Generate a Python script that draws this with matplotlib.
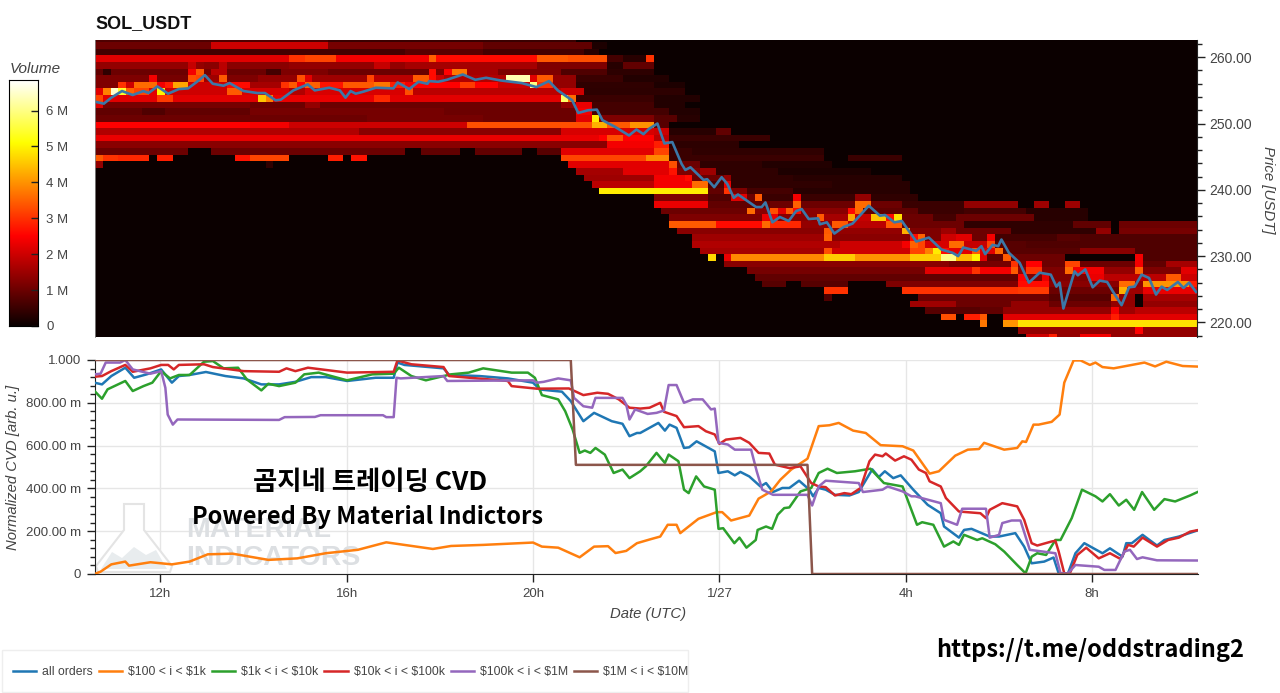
import matplotlib
matplotlib.use('Agg')
import matplotlib.pyplot as plt
import numpy as np
from matplotlib.lines import Line2D
from matplotlib.patches import Polygon, Rectangle

plt.rcParams['font.family'] = ['Liberation Sans', 'DejaVu Sans']

# volume per 10 min column and $1 price row, in millions: price -> (first col, last col, vol)
# later runs overwrite earlier ones
heat_runs = {
    263: [(0, 30, 0.7), (30, 62, 0.5)],
    262: [(0, 15, 1.0), (15, 30, 2.0), (30, 50, 1.1), (50, 64, 0.9), (64, 66, 0.2)],
    261: [(0, 63, 0.6), (40, 50, 0.8), (63, 65, 0.3)],
    260: [(0, 25, 2.2), (25, 27, 3.0), (27, 31, 3.2), (31, 43, 2.4), (43, 44, 3.5), (44, 57, 2.6), (57, 61, 3.4), (61, 66, 3.3), (66, 68, 0.6), (68, 71, 0.3), (71, 72, 3.0)],
    259: [(0, 14, 1.4), (14, 25, 1.3), (25, 40, 1.4), (40, 57, 1.6), (57, 66, 1.2), (66, 68, 0.3), (68, 72, 0.9), (12, 13, 1.9), (36, 38, 1.9), (16, 17, 1.8)],
    258: [(0, 1, 0.9), (1, 2, 0.4), (2, 12, 1.0), (12, 13, 2.4), (13, 14, 3.4), (14, 15, 1.1), (15, 17, 1.8), (17, 22, 1.0), (22, 24, 0.6), (24, 30, 1.2), (30, 43, 1.0), (43, 44, 2.6), (44, 45, 1.2), (45, 46, 2.5), (46, 48, 3.7), (48, 52, 1.6), (52, 60, 1.2), (60, 66, 0.7), (66, 72, 0.35)],
    257: [(0, 7, 1.2), (7, 8, 2.4), (8, 12, 1.1), (12, 13, 3.3), (13, 14, 3.2), (14, 16, 1.5), (16, 17, 3.4), (17, 21, 1.2), (21, 26, 1.4), (26, 27, 3.3), (27, 28, 2.2), (28, 35, 1.5), (35, 36, 3.2), (36, 41, 1.8), (41, 43, 3.4), (43, 44, 2.6), (44, 45, 2.0), (45, 53, 1.7), (53, 56, 6.3), (56, 57, 2.2), (57, 59, 3.4), (59, 62, 1.4), (62, 68, 0.5), (68, 74, 0.25)],
    256: [(0, 3, 1.2), (3, 4, 3.0), (4, 5, 2.0), (5, 8, 3.6), (8, 9, 2.4), (9, 10, 2.8), (10, 12, 4.2), (12, 17, 2.0), (17, 20, 2.6), (20, 24, 1.6), (24, 25, 3.0), (25, 26, 3.4), (26, 27, 2.5), (27, 29, 3.5), (29, 32, 2.7), (32, 36, 3.4), (36, 38, 3.7), (38, 40, 2.8), (40, 41, 2.4), (41, 52, 2.5), (47, 49, 3.1), (52, 56, 2.0), (56, 57, 6.0), (57, 59, 3.0), (59, 62, 1.4), (62, 72, 0.4), (72, 76, 0.2)],
    255: [(0, 1, 2.2), (1, 2, 3.8), (2, 3, 6.5), (3, 4, 5.4), (4, 5, 3.5), (5, 7, 3.2), (7, 8, 2.2), (8, 9, 5.0), (9, 17, 2.0), (17, 19, 3.4), (19, 40, 2.1), (25, 27, 1.7), (40, 41, 3.3), (41, 60, 1.8), (60, 63, 2.0), (63, 76, 0.35)],
    254: [(0, 1, 3.2), (1, 8, 2.2), (8, 10, 3.1), (10, 21, 2.2), (21, 22, 4.5), (22, 23, 3.8), (23, 36, 2.3), (36, 38, 2.9), (38, 60, 2.2), (60, 61, 5.8), (61, 62, 3.6), (62, 72, 0.5), (72, 78, 0.25)],
    253: [(0, 1, 2.2), (1, 20, 1.1), (20, 27, 1.0), (27, 29, 1.4), (29, 60, 1.0), (60, 62, 1.4), (62, 64, 2.3), (64, 72, 0.6), (72, 76, 0.25)],
    252: [(0, 6, 0.9), (6, 9, 0.7), (9, 20, 0.9), (20, 45, 1.1), (45, 62, 1.0), (62, 64, 2.4), (64, 74, 0.6), (74, 78, 0.25)],
    251: [(0, 35, 1.0), (35, 50, 1.1), (50, 62, 1.0), (62, 64, 2.2), (64, 65, 4.9), (65, 72, 1.2), (72, 75, 0.8), (75, 78, 0.3)],
    250: [(0, 20, 2.5), (20, 25, 2.4), (25, 48, 2.0), (48, 64, 3.3), (64, 66, 4.3), (66, 69, 3.4), (69, 72, 4.0), (72, 74, 0.8)],
    249: [(0, 34, 1.7), (34, 60, 1.3), (60, 72, 2.1), (72, 74, 2.0), (74, 80, 0.3), (80, 82, 0.9)],
    248: [(0, 65, 2.3), (65, 72, 2.5), (66, 68, 3.3), (72, 74, 1.8), (74, 87, 0.5)],
    247: [(0, 66, 1.3), (66, 72, 2.4), (72, 74, 2.8), (74, 83, 0.35)],
    246: [(0, 12, 1.0), (15, 40, 1.0), (42, 47, 0.9), (49, 55, 0.9), (57, 60, 0.8), (60, 72, 2.2), (72, 74, 3.2), (74, 77, 0.5), (77, 94, 0.4)],
    245: [(0, 1, 3.4), (1, 3, 3.0), (3, 7, 2.9), (8, 10, 2.8), (18, 20, 2.7), (20, 25, 3.2), (30, 32, 2.8), (33, 35, 2.7), (60, 71, 3.2), (71, 74, 3.9), (74, 80, 0.5), (80, 94, 0.5), (97, 104, 0.5)],
    244: [(0, 1, 1.4), (22, 23, 0.4), (61, 74, 2.2), (74, 75, 3.3), (75, 78, 1.0), (78, 86, 0.4), (86, 95, 0.25)],
    243: [(62, 68, 1.6), (68, 74, 2.2), (74, 75, 2.7), (75, 78, 1.2), (78, 80, 1.5), (80, 88, 0.4), (88, 100, 0.2)],
    242: [(63, 72, 1.5), (72, 76, 2.4), (76, 77, 2.6), (77, 81, 1.0), (81, 82, 1.4), (82, 90, 0.4), (90, 104, 0.3)],
    241: [(64, 72, 1.8), (72, 77, 2.4), (77, 79, 3.6), (79, 81, 0.7), (81, 82, 2.3), (82, 95, 0.4), (95, 105, 0.3)],
    240: [(65, 79, 4.9), (79, 81, 0.9), (81, 82, 3.0), (82, 84, 1.2), (84, 90, 0.6), (90, 105, 0.3)],
    239: [(72, 79, 1.2), (79, 82, 0.7), (82, 84, 2.2), (84, 85, 1.0), (85, 86, 3.4), (86, 90, 0.5), (90, 91, 2.4), (91, 98, 0.5), (98, 100, 1.4), (100, 106, 0.4)],
    238: [(72, 79, 2.3), (79, 87, 0.9), (87, 90, 1.0), (90, 91, 3.5), (91, 98, 1.0), (98, 100, 3.6), (100, 104, 1.0), (104, 112, 0.5), (112, 119, 1.4), (121, 123, 1.5), (125, 127, 1.5)],
    237: [(73, 84, 1.0), (84, 85, 3.6), (85, 87, 1.3), (87, 88, 3.3), (88, 89, 2.2), (89, 90, 3.4), (90, 91, 2.6), (91, 97, 1.3), (97, 98, 2.6), (98, 99, 3.6), (99, 106, 0.9), (106, 112, 0.5), (112, 120, 0.6), (120, 128, 0.3)],
    236: [(74, 86, 1.2), (86, 88, 2.3), (88, 93, 1.3), (93, 94, 3.4), (94, 97, 1.6), (97, 98, 4.2), (98, 100, 1.9), (100, 102, 4.5), (102, 103, 2.6), (103, 104, 4.8), (104, 108, 1.0), (108, 111, 0.6), (111, 121, 1.0), (121, 128, 0.3)],
    235: [(74, 80, 3.4), (80, 86, 2.6), (86, 87, 3.6), (87, 91, 2.9), (91, 95, 1.4), (95, 97, 3.4), (97, 102, 1.8), (102, 104, 3.4), (104, 112, 1.0), (112, 126, 0.4), (126, 131, 0.9), (132, 142, 1.0)],
    234: [(75, 94, 1.3), (94, 95, 3.4), (95, 104, 1.4), (104, 105, 4.3), (105, 109, 1.2), (109, 111, 1.5), (111, 118, 1.0), (118, 129, 0.4), (129, 131, 1.4), (132, 142, 1.1)],
    233: [(77, 94, 1.5), (94, 95, 3.5), (95, 105, 1.3), (105, 106, 2.6), (106, 107, 3.5), (107, 109, 1.2), (109, 111, 2.0), (111, 113, 2.2), (113, 115, 1.0), (115, 116, 2.4), (116, 124, 0.6), (124, 127, 0.8), (127, 142, 0.7)],
    232: [(77, 96, 1.7), (96, 104, 2.0), (104, 105, 2.4), (105, 106, 3.5), (106, 107, 3.2), (107, 110, 2.1), (110, 112, 3.6), (112, 115, 1.9), (115, 116, 3.2), (116, 120, 0.8), (120, 142, 0.7)],
    231: [(78, 94, 1.6), (94, 95, 3.3), (95, 105, 2.0), (105, 107, 3.2), (107, 108, 3.8), (108, 109, 4.9), (109, 110, 2.6), (110, 113, 2.2), (113, 114, 3.4), (114, 116, 2.2), (116, 117, 3.6), (117, 127, 0.8), (127, 134, 1.3), (134, 142, 0.7)],
    230: [(79, 80, 4.7), (81, 82, 2.3), (82, 94, 3.9), (94, 98, 4.6), (98, 105, 4.0), (105, 109, 4.6), (109, 111, 6.0), (111, 113, 4.4), (113, 114, 5.0), (114, 115, 2.2), (115, 117, 0.9), (117, 118, 3.4), (118, 125, 1.0), (134, 135, 2.4), (135, 142, 0.7)],
    229: [(81, 110, 1.3), (110, 118, 1.1), (118, 119, 3.0), (119, 120, 1.1), (120, 122, 2.5), (122, 125, 1.0), (125, 127, 3.2), (127, 134, 1.0), (134, 135, 2.4), (135, 138, 0.9), (138, 142, 1.6)],
    228: [(84, 107, 1.1), (107, 113, 2.2), (113, 114, 3.0), (114, 118, 2.4), (118, 119, 3.4), (119, 120, 1.4), (120, 122, 3.0), (122, 125, 1.2), (125, 126, 3.6), (126, 130, 2.4), (130, 134, 1.4), (134, 135, 3.5), (135, 140, 1.2), (140, 142, 2.2)],
    227: [(85, 105, 0.9), (105, 119, 0.9), (119, 120, 2.5), (120, 122, 1.2), (122, 123, 2.3), (123, 128, 1.2), (128, 130, 2.3), (130, 135, 1.8), (135, 138, 1.8), (138, 140, 3.4), (140, 142, 2.0)],
    226: [(86, 89, 0.8), (91, 97, 0.8), (102, 119, 1.2), (119, 123, 2.6), (123, 132, 1.3), (132, 134, 3.6), (134, 135, 1.4), (135, 141, 4.0), (141, 142, 2.8)],
    225: [(94, 97, 3.0), (104, 119, 3.0), (119, 123, 3.1), (123, 132, 1.0), (132, 133, 4.3), (133, 135, 1.5), (135, 142, 2.3)],
    224: [(94, 95, 0.7), (106, 123, 1.0), (123, 131, 0.8), (131, 132, 3.6), (132, 134, 1.4), (135, 142, 1.6)],
    223: [(105, 111, 1.5), (111, 118, 1.0), (118, 123, 1.4), (123, 131, 1.0), (131, 134, 1.4), (135, 142, 1.4)],
    222: [(107, 114, 0.8), (114, 117, 0.9), (117, 131, 1.4), (131, 132, 2.4), (132, 134, 1.5), (134, 142, 1.8)],
    221: [(109, 111, 3.3), (112, 114, 2.8), (114, 115, 3.4), (117, 142, 2.2), (131, 132, 2.8)],
    220: [(114, 115, 3.7), (117, 119, 4.0), (119, 142, 4.8)],
    219: [(119, 142, 1.4), (134, 135, 2.5)],
    218: [(120, 123, 2.0), (123, 124, 2.8), (124, 127, 1.4), (127, 131, 2.4), (131, 142, 1.4)],
}

price_t = [10.59, 10.79, 10.95, 11.18, 11.41, 11.64, 11.75, 11.94, 12.17, 12.40, 12.60, 12.79, 12.96, 13.13, 13.36, 13.49, 13.79, 14.09, 14.25, 14.48, 14.59, 14.86, 15.17, 15.32, 15.63, 15.86, 15.98, 16.09, 16.20, 16.36, 16.63, 17.01, 17.10, 17.35, 17.55, 17.74, 17.78, 17.97, 18.16, 18.50, 18.77, 19.00, 19.31, 19.77, 20.08, 20.35, 20.54, 20.85, 20.98, 21.19, 21.38, 21.50, 21.77, 22.07, 22.23, 22.38, 22.50, 22.68, 22.83, 23.00, 23.20, 23.28, 23.39, 23.67, 23.75, 23.90, 24.06, 24.18, 24.32, 24.41, 24.80, 24.92, 25.00, 25.15, 25.31, 25.50, 25.66, 25.78, 25.93, 26.13, 26.17, 26.32, 26.48, 26.68, 26.87, 27.22, 27.46, 27.57, 27.77, 27.93, 28.24, 28.51, 28.78, 29.02, 29.14, 29.25, 29.53, 29.64, 29.72, 29.88, 30.00, 30.07, 30.23, 30.46, 30.66, 30.89, 31.13, 31.25, 31.32, 31.40, 31.64, 31.71, 31.87, 32.03, 32.18, 32.34, 32.46, 32.65, 32.81, 32.93, 33.08, 33.24, 33.39, 33.51, 33.63, 33.86, 33.98, 34.10, 34.25]
price_v = [253.3, 253.0, 253.9, 254.9, 254.3, 254.9, 254.6, 255.6, 254.5, 255.2, 255.3, 256.3, 257.3, 256.0, 255.7, 256.1, 254.9, 254.6, 254.6, 253.5, 253.6, 255.0, 255.9, 255.0, 255.4, 255.0, 253.9, 254.9, 254.5, 254.8, 255.4, 255.3, 256.2, 255.2, 256.3, 256.0, 256.4, 256.3, 256.6, 257.4, 256.6, 256.9, 256.5, 256.1, 255.5, 256.4, 255.0, 253.5, 251.6, 252.0, 252.1, 250.5, 249.5, 248.2, 249.1, 248.4, 249.2, 250.0, 247.0, 247.2, 243.9, 243.0, 243.4, 241.5, 241.6, 240.4, 241.9, 240.9, 238.8, 239.3, 237.4, 237.4, 238.1, 235.1, 235.9, 235.3, 236.8, 237.1, 235.6, 235.7, 234.8, 235.1, 233.4, 234.4, 234.9, 237.6, 236.1, 236.2, 235.1, 235.3, 232.2, 232.8, 231.0, 230.5, 230.0, 231.3, 230.8, 231.5, 230.3, 231.7, 231.5, 232.5, 230.5, 229.0, 226.0, 227.5, 227.2, 225.4, 226.0, 222.1, 227.7, 227.1, 228.0, 225.3, 226.3, 226.1, 224.7, 222.6, 225.3, 225.4, 227.2, 226.7, 224.2, 225.4, 224.9, 226.1, 225.2, 226.0, 224.6]

all_t = [10.59, 10.75, 10.95, 11.25, 11.44, 11.71, 12.02, 12.25, 12.40, 12.63, 12.98, 13.40, 13.79, 14.17, 14.55, 14.90, 15.24, 15.55, 16.01, 16.62, 17.01, 17.09, 17.24, 18.08, 18.20, 18.85, 19.46, 20.00, 20.15, 20.62, 20.81, 21.08, 21.31, 21.69, 21.92, 22.07, 22.23, 22.30, 22.69, 22.83, 22.93, 23.08, 23.24, 23.35, 23.51, 23.90, 23.98, 24.18, 24.33, 24.45, 24.64, 24.88, 25.00, 25.15, 25.35, 25.50, 25.71, 25.93, 26.01, 26.13, 26.28, 26.48, 26.79, 26.99, 27.28, 27.42, 27.55, 27.73, 27.89, 28.16, 28.47, 28.75, 28.82, 29.14, 29.25, 29.41, 29.80, 30.00, 30.35, 30.54, 30.70, 30.97, 31.17, 31.28, 31.48, 31.64, 31.83, 32.22, 32.38, 32.65, 32.73, 32.85, 33.08, 33.39, 33.55, 33.86, 34.29]
all_v = [.894, .886, .925, .964, .917, .933, .956, .894, .925, .930, .944, .925, .914, .886, .886, .898, .920, .920, .902, .917, .917, .988, .977, .961, .930, .925, .914, .894, .862, .852, .808, .714, .753, .714, .702, .644, .659, .659, .706, .670, .698, .683, .589, .592, .620, .573, .472, .480, .461, .477, .456, .409, .425, .383, .402, .402, .436, .394, .363, .402, .394, .370, .367, .383, .489, .453, .480, .448, .461, .394, .323, .284, .222, .170, .206, .211, .175, .175, .191, .128, .050, .058, .077, .003, .003, .097, .144, .097, .120, .081, .144, .144, .183, .133, .159, .175, .206]

s100_t = [10.59, 10.72, 10.95, 11.25, 11.33, 11.79, 12.25, 12.63, 13.02, 13.55, 14.32, 14.94, 15.55, 16.24, 16.85, 17.85, 18.24, 18.93, 20.00, 20.19, 20.54, 21.00, 21.31, 21.61, 21.77, 22.00, 22.23, 22.53, 22.73, 22.89, 23.08, 23.16, 23.55, 23.94, 24.06, 24.25, 24.64, 24.84, 25.11, 25.31, 25.54, 25.89, 26.13, 26.36, 26.56, 26.87, 27.14, 27.46, 27.93, 28.16, 28.51, 28.71, 29.06, 29.33, 29.57, 29.68, 30.11, 30.39, 30.50, 30.58, 30.74, 30.85, 31.13, 31.30, 31.40, 31.60, 31.75, 31.95, 32.07, 32.22, 32.46, 33.12, 33.35, 33.59, 33.94, 34.29]
s100_v = [0, .011, .045, .058, .039, .055, .045, .058, .092, .095, .066, .073, .097, .113, .148, .117, .131, .136, .147, .128, .123, .078, .128, .130, .098, .108, .144, .163, .175, .230, .230, .191, .258, .289, .289, .250, .273, .352, .386, .441, .488, .539, .691, .695, .706, .670, .659, .602, .597, .577, .469, .480, .553, .581, .584, .613, .581, .589, .620, .617, .698, .698, .711, .745, .894, .998, .998, .977, .988, .967, .961, .988, .970, .992, .972, .969]

s1k_t = [10.59, 10.75, 10.87, 11.25, 11.41, 11.64, 11.83, 12.02, 12.21, 12.40, 12.63, 12.94, 13.13, 13.36, 13.67, 13.86, 14.17, 14.32, 14.55, 14.90, 15.09, 15.40, 16.01, 16.55, 17.01, 17.12, 17.39, 17.70, 18.08, 18.24, 18.62, 18.93, 19.54, 19.89, 20.04, 20.19, 20.54, 20.69, 20.85, 21.00, 21.11, 21.23, 21.34, 21.54, 21.73, 21.92, 22.07, 22.30, 22.42, 22.65, 22.83, 22.91, 23.12, 23.24, 23.34, 23.50, 23.67, 23.90, 23.98, 24.08, 24.32, 24.43, 24.58, 24.78, 24.82, 25.00, 25.13, 25.25, 25.39, 25.50, 25.74, 25.97, 26.13, 26.32, 26.52, 26.91, 27.24, 27.53, 27.93, 28.24, 28.35, 28.59, 28.82, 29.02, 29.14, 29.25, 29.53, 29.64, 29.92, 30.11, 30.39, 30.57, 30.70, 30.82, 31.01, 31.21, 31.32, 31.56, 31.78, 32.07, 32.22, 32.38, 32.57, 32.73, 32.90, 33.07, 33.33, 33.55, 33.78, 34.10, 34.29]
s1k_v = [.855, .819, .863, .902, .855, .878, .894, .948, .914, .930, .930, .992, .995, .961, .964, .909, .858, .889, .878, .894, .933, .941, .905, .933, .936, .964, .925, .905, .925, .933, .941, .961, .941, .941, .917, .836, .816, .761, .675, .566, .577, .566, .589, .558, .472, .488, .448, .480, .503, .566, .519, .558, .527, .394, .378, .456, .409, .394, .211, .214, .144, .170, .123, .159, .206, .222, .211, .277, .308, .311, .386, .402, .472, .492, .472, .480, .492, .425, .409, .230, .242, .230, .128, .152, .136, .183, .159, .167, .139, .105, .042, .003, .081, .097, .089, .159, .159, .261, .394, .363, .339, .373, .320, .347, .300, .383, .300, .350, .339, .367, .386]

s10k_t = [10.59, 10.75, 10.95, 11.25, 11.41, 11.79, 12.02, 12.17, 12.29, 12.40, 12.94, 13.13, 13.79, 14.55, 14.71, 14.90, 15.17, 16.01, 17.01, 17.09, 17.39, 18.08, 18.20, 19.46, 19.54, 20.08, 20.77, 21.08, 21.38, 21.61, 21.84, 22.07, 22.30, 22.50, 22.73, 22.81, 23.08, 23.24, 23.55, 23.71, 23.90, 24.00, 24.14, 24.45, 24.64, 24.84, 25.07, 25.19, 25.50, 25.74, 25.97, 26.13, 26.28, 26.48, 26.68, 26.83, 27.03, 27.22, 27.34, 27.50, 27.57, 27.77, 27.96, 28.12, 28.28, 28.43, 28.51, 28.75, 28.86, 29.14, 29.60, 29.72, 29.80, 30.07, 30.39, 30.54, 30.70, 30.82, 31.13, 31.21, 31.28, 31.40, 31.52, 31.68, 31.87, 32.14, 32.38, 32.61, 32.77, 32.89, 33.08, 33.39, 33.63, 33.86, 34.10, 34.29]
s10k_v = [.922, .925, .948, .977, .945, .961, .977, .977, .956, .977, .980, .967, .948, .945, .961, .948, .964, .941, .945, .998, .980, .967, .925, .902, .878, .866, .867, .836, .847, .842, .816, .777, .773, .777, .800, .758, .738, .686, .691, .667, .652, .608, .628, .636, .613, .566, .563, .511, .495, .503, .425, .409, .406, .367, .378, .373, .402, .527, .558, .550, .563, .530, .550, .534, .488, .472, .433, .409, .355, .292, .284, .261, .300, .331, .316, .253, .144, .133, .152, .155, .105, .003, .003, .089, .123, .073, .097, .070, .136, .128, .170, .128, .159, .170, .198, .206]

s100k_t = [10.59, 10.72, 10.83, 11.14, 11.25, 11.41, 11.79, 12.02, 12.11, 12.16, 12.27, 12.37, 14.55, 14.67, 15.32, 15.44, 16.78, 16.85, 17.01, 17.07, 17.16, 18.08, 18.16, 20.00, 20.08, 20.23, 20.54, 20.81, 20.88, 21.08, 21.27, 21.34, 21.92, 22.00, 22.07, 22.19, 22.46, 22.65, 22.81, 22.91, 23.08, 23.24, 23.43, 23.64, 23.82, 23.90, 23.98, 24.18, 24.33, 24.68, 24.80, 24.92, 25.15, 25.89, 25.99, 26.13, 26.28, 26.99, 27.08, 27.50, 27.61, 27.93, 28.12, 28.20, 28.75, 28.82, 29.10, 29.21, 29.72, 29.80, 30.00, 30.07, 30.27, 30.46, 30.66, 31.21, 31.32, 31.48, 31.64, 32.14, 32.26, 32.50, 32.69, 32.81, 32.96, 33.08, 33.39, 34.29]
s100k_v = [.933, .936, .988, .988, 1.0, .956, .936, .948, .870, .745, .698, .722, .720, .733, .734, .742, .742, .733, .733, .917, .914, .925, .902, .905, .894, .898, .914, .905, .823, .784, .777, .823, .823, .792, .722, .769, .748, .753, .764, .883, .883, .800, .816, .816, .769, .773, .613, .605, .581, .581, .480, .394, .370, .370, .320, .409, .436, .425, .383, .394, .409, .386, .363, .363, .331, .253, .230, .305, .305, .170, .183, .238, .250, .250, .113, .097, .003, .003, .042, .034, .019, .019, .105, .113, .070, .078, .064, .063]

s1m_t = [10.59, 20.81, 20.92, 25.89, 25.99, 34.29]
s1m_v = [1.0, 1.0, .51, .51, 0, 0]

series_names = ['all orders', r'\$100 < i < \$1k', r'\$1k < i < \$10k', r'\$10k < i < \$100k', r'\$100k < i < \$1M', r'\$1M < i < \$10M']
series_colors = ['#1f77b4', '#ff7f0e', '#2ca02c', '#d62728', '#9467bd', '#8c564b']

cbar_ticks = [0, 1, 2, 3, 4, 5, 6]
cvd_ticks = [0, 0.2, 0.4, 0.6, 0.8, 1.0]
cvd_labels = ['0', '200.00 m', '400.00 m', '600.00 m', '800.00 m', '1.000']
price_ticks = [220, 230, 240, 250, 260]
time_ticks = [12, 16, 20, 24, 28, 32]
time_labels = ['12h', '16h', '20h', '1/27', '4h', '8h']

W, H = 1280, 693
vol_max = 6.85
t_start, t_end = 10.6, 34.27
grey = '#444444'


def box(x0, y0, x1, y1):
    return [x0 / W, 1 - y1 / H, (x1 - x0) / W, (y1 - y0) / H]


def fig_xy(points):
    return [(x / W, 1 - y / H) for x, y in points]


fig = plt.figure(figsize=(W / 100, H / 100), dpi=100, facecolor='white')

# heatmap
n_cols = 142
prices = np.arange(218, 264)
grid = np.zeros((len(prices), n_cols))
for p, runs in heat_runs.items():
    for c0, c1, vol in runs:
        grid[p - 218, c0:c1] = vol
col_edges = t_start + np.arange(n_cols + 1) / 6
row_edges = np.arange(218, 265) - 0.7

ax1 = fig.add_axes(box(95, 40, 1197, 337))
ax1.set_facecolor('black')
ax1.pcolormesh(col_edges, row_edges, grid, cmap='hot', vmin=0, vmax=vol_max, shading='flat', rasterized=True)
ax1.plot(price_t, price_v, color='#3b78a8', lw=1.9)
ax1.set_xlim(t_start, t_end)
ax1.set_ylim(217.8, 262.6)
ax1.set_xticks([])
ax1.yaxis.tick_right()
ax1.set_yticks(price_ticks)
ax1.set_yticks(np.arange(218, 263, 2), minor=True)
ax1.set_yticklabels(['%.2f' % p for p in price_ticks], fontsize=10, color=grey)
ax1.tick_params(axis='y', which='major', length=6, width=1, color='#222222', pad=3)
ax1.tick_params(axis='y', which='minor', length=3.5, width=1, color='#222222')
for side in ['top', 'bottom']:
    ax1.spines[side].set_visible(False)
ax1.spines['left'].set_color('#888888')
ax1.spines['left'].set_linewidth(0.6)
ax1.spines['right'].set_color('#222222')
fig.text(95 / W, 1 - 24 / H, 'SOL_USDT', fontsize=13, fontweight='bold', va='center', ha='left', color='#111111')
fig.text(1268 / W, 1 - 190 / H, 'Price [USDT]', fontsize=10.8, style='italic', rotation=270, ha='center', va='center', color=grey)

# colour bar
cax = fig.add_axes(box(9, 80, 38, 326))
cax.imshow(np.linspace(0, 1, 256)[:, None], aspect='auto', cmap='hot', origin='lower', extent=[0, 1, 0, vol_max])
cax.set_xticks([])
cax.yaxis.tick_right()
cax.set_yticks(cbar_ticks)
cax.set_yticklabels(['0'] + ['%d M' % v for v in cbar_ticks[1:]], fontsize=9.5, color=grey)
cax.tick_params(axis='y', direction='in', length=5, width=1, color='#222222', pad=6)
fig.text(10 / W, 1 - 69 / H, 'Volume', fontsize=11, style='italic', va='center', ha='left', color=grey)

# CVD lines
ax2 = fig.add_axes(box(95, 360, 1198, 574))
series = [(all_t, all_v), (s100_t, s100_v), (s1k_t, s1k_v), (s10k_t, s10k_v), (s100k_t, s100k_v), (s1m_t, s1m_v)]
for (t, v), name, col in zip(series, series_names, series_colors):
    ax2.plot(t, v, color=col, lw=1.8, solid_joinstyle='round', zorder=3)
ax2.set_xlim(t_start, t_end)
ax2.set_ylim(0, 1)
ax2.set_xticks(time_ticks)
ax2.set_xticklabels(time_labels, fontsize=9.5, color=grey)
ax2.set_yticks(cvd_ticks)
ax2.set_yticks(np.arange(0, 1.001, 0.04), minor=True)
ax2.set_yticklabels(cvd_labels, fontsize=9.5, color=grey)
ax2.grid(True, which='major', color='#e6e6e6', lw=1)
ax2.set_axisbelow(True)
ax2.tick_params(axis='both', which='major', length=6, width=1, color='#222222', pad=4)
ax2.tick_params(axis='y', which='minor', length=3.5, width=1, color='#222222')
for side in ['top', 'right']:
    ax2.spines[side].set_visible(False)
for side in ['left', 'bottom']:
    ax2.spines[side].set_color('#222222')
fig.text(13 / W, 1 - 467 / H, 'Normalized CVD [arb. u.]', fontsize=10.7, style='italic', rotation=90, ha='center', va='center', color=grey)
fig.text(648 / W, 1 - 614 / H, 'Date (UTC)', fontsize=10.7, style='italic', ha='center', va='center', color=grey)

# watermark under the lines
flask = [(124, 504), (144, 504), (144, 530), (172, 566), (170, 572), (98, 572), (96, 566), (124, 530)]
hills = [(101, 569), (112, 552), (122, 558), (134, 547), (146, 555), (156, 550), (167, 569)]
ax2.add_patch(Polygon(fig_xy(flask), closed=True, transform=fig.transFigure, facecolor='white', edgecolor='#e4e4e4', lw=1.5, zorder=1.5))
ax2.add_patch(Polygon(fig_xy(hills), closed=True, transform=fig.transFigure, facecolor='#e8ecee', edgecolor='none', zorder=1.6))
ax2.text(186 / W, 1 - 530 / H, 'MATERIAL', transform=fig.transFigure, fontsize=20.5, fontweight='bold', color='#dcdfe2', va='center', ha='left', zorder=1.7)
ax2.text(186 / W, 1 - 558 / H, 'INDICATORS', transform=fig.transFigure, fontsize=20.5, fontweight='bold', color='#dcdfe2', va='center', ha='left', zorder=1.7)

# overlay text
kr = ['Noto Sans CJK KR', 'DejaVu Sans']
fig.text(370 / W, 1 - 483 / H, '곰지네 트레이딩 CVD', fontsize=19, family=kr, fontweight='bold', ha='center', va='center', color='black', zorder=6)
fig.text(367 / W, 1 - 517 / H, 'Powered By Material Indictors', fontsize=17, family=kr, fontweight='bold', ha='center', va='center', color='black', zorder=6)
fig.text(1090 / W, 1 - 650 / H, 'https://t.me/oddstrading2', fontsize=17, family=kr, fontweight='bold', ha='center', va='center', color='black', zorder=6)

# legend
handles = [Line2D([], [], color=c, lw=1.8) for c in series_colors]
fig.add_artist(Rectangle((2 / W, 1 - 692 / H), 686 / W, 42 / H, transform=fig.transFigure, facecolor='white', edgecolor='#eeeeee', lw=1))
fig.legend(handles, series_names, loc='center left', bbox_to_anchor=(13 / W, 1 - 672 / H), ncol=6, frameon=False,
           fontsize=8.8, handlelength=1.9, handletextpad=0.5, columnspacing=0.48, labelcolor=grey, borderpad=0, borderaxespad=0)

fig.savefig('out.png', dpi=100)
